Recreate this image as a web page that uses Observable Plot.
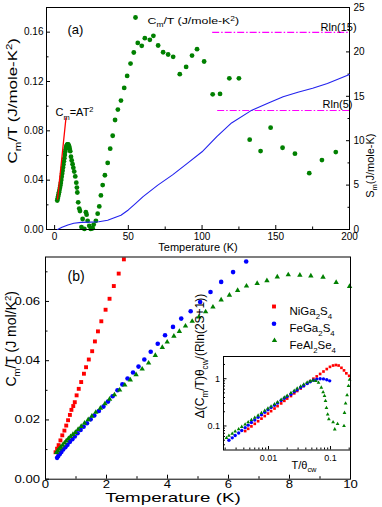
<!DOCTYPE html>
<html><head><meta charset="utf-8">
<style>
html,body{margin:0;padding:0;background:#fff;}
#fig{position:relative;width:382px;height:507px;overflow:hidden;background:#fff;}
</style>
<script src="https://cdn.jsdelivr.net/npm/d3@7"></script>
<script src="https://cdn.jsdelivr.net/npm/@observablehq/plot@0.6"></script>
</head><body><div id="fig"></div>
<script>
// ---------- Panel (a) data ----------
const cmT = [1.8,2.1,2.4,2.7,3.0,3.3,3.6,3.9,4.2,4.5,4.8,5.1,5.4,5.7,6.0,6.3,6.6,6.9,7.2,7.5,7.8,8.1,8.4,8.7,9.0,9.3,9.6,9.9,10.2,10.6,11.1,11.6,12.2,12.7,13.3,14.0,14.7,15.1,15.4,16.0,16.7,17.2,18.2,19.0,20.2,21.2,21.7,22.4,23.5,24.5,25.8,26.5,28.0,29.2,30.3,31.4,32.6,34.1,36.0,37.7,39.4,41.0,42.9,45.0,47.2,49.2,51.5,53.7,56.4,59.1,61.2,64.6,67.0,70.2,73.6,77.0,80.4,84.9,89.2,93.2,96.6,101.4,107.2,112.2,118.5,125.0,132.3,139.7,146.5,154.6,163.0,172.7,181.3,190.7];
const cmOverT = [.0235,.0252,.0268,.0286,.0303,.0320,.0338,.0356,.0378,.0402,.0427,.0452,.0477,.0503,.0528,.0553,.0578,.0605,.0630,.0650,.0665,.0677,.0686,.0690,.0690,.0687,.0680,.0670,.0655,.0635,.0590,.0560,.0530,.0500,.0470,.0430,.0380,.0340,.0300,.0220,.0170,.0150,.0020,.0085,.0005,.0140,.0120,.0070,.0030,.0005,.0010,.0040,.0070,.0128,.0187,.0276,.0360,.0440,.0540,.0655,.0760,.0888,.0972,.1045,.1148,.1245,.1345,.1435,.1513,.1489,.1551,.1538,.1570,.1492,.1437,.1419,.1400,.1259,.1318,.1410,.1462,.1362,.1096,.1099,.1226,.1226,.0728,.0636,.0826,.0663,.0615,.0457,.0563,.0628];
const fitT = [2.0, 7.7];
const fitCmOverT = [0.0247, 0.0904];
const entropyT = [2,5,9,13,18,24,30,36,40,45,50,55,60,70,80,90,100,110,120,133,145,155,165,175,185,200];
const entropyS = [0,0.25,0.5,0.7,0.8,0.83,0.88,1.05,1.3,1.6,2.2,2.95,3.7,5.0,6.15,7.45,8.75,10.45,12.0,13.36,14.25,14.95,15.45,15.9,16.45,17.45];
const refNames = ["Rln(15)", "Rln(5)"];
const refS = [22.2, 13.4];
const refFrom = [107.2, 110.6];
const refTo = [200, 200];
const xMajorA = [0,50,100,150,200];
const xMinorA = [25,75,125,175];
const cMajorA = [0,0.04,0.08,0.12,0.16];
const cMinorA = [0.02,0.06,0.10,0.14];
const sMajorA = [0,5,10,15,20,25];
const sMinorA = [2.5,7.5,12.5,17.5,22.5];

// ---------- Panel (b) data ----------
const niT = [0.33,0.38,0.43,0.49,0.55,0.62,0.68,0.74,0.80,0.85,0.91,0.96,1.02,1.09,1.17,1.26,1.33,1.42,1.53,1.62,1.72,1.83,1.97,2.10,2.24,2.40,2.57];
const niC = [.0091,.0103,.0115,.0131,.0148,.0164,.0181,.0199,.0217,.0234,.0247,.0260,.0283,.0305,.0328,.0356,.0378,.0404,.0432,.0465,.0499,.0533,.0572,.0609,.0652,.0694,.0742];
const feGaT = [0.38,0.42,0.47,0.52,0.58,0.65,0.72,0.80,0.88,0.96,1.05,1.15,1.25,1.36,1.48,1.60,1.75,1.90,2.05,2.20,2.36,2.52,2.69,2.87,3.05,3.24,3.45,3.68,3.92,4.18,4.45,4.76,5.07,5.41,5.76,6.15,6.58];
const feGaC = [.0072,.0078,.0085,.0092,.0100,.0108,.0116,.0126,.0135,.0144,.0155,.0166,.0177,.0189,.0202,.0215,.0230,.0245,.0262,.0280,.0300,.0320,.0340,.0360,.0380,.0404,.0430,.0457,.0486,.0514,.0542,.0567,.0598,.0632,.0666,.0699,.0735];
const feAlT = [0.36,0.40,0.45,0.50,0.56,0.62,0.68,0.75,0.82,0.90,0.98,1.07,1.17,1.28,1.40,1.52,1.65,1.80,1.95,2.10,2.26,2.43,2.60,2.78,2.97,3.17,3.38,3.60,3.83,3.99,4.21,4.39,4.59,4.81,5.03,5.25,5.49,5.76,6.03,6.30,6.59,6.94,7.26,7.60,7.96,8.34,8.70,9.10,9.53,9.97];
const feAlC = [.0090,.0096,.0102,.0108,.0115,.0122,.0129,.0137,.0144,.0151,.0158,.0168,.0178,.0189,.0201,.0213,.0226,.0240,.0255,.0270,.0285,.0301,.0318,.0335,.0353,.0372,.0392,.0418,.0445,.0463,.0483,.0499,.0517,.0533,.0548,.0565,.0581,.0605,.0621,.0637,.0652,.0661,.0670,.0683,.0690,.0689,.0686,.0682,.0664,.0651];
const xMajorB = [0,2,4,6,8,10];
const xMinorB = [1,3,5,7,9];
const cMajorB = [0,0.02,0.04,0.06];
const cMinorB = [0.01,0.03,0.05,0.07];
const seriesNames = ["NiGa_{2}S_{4}", "FeGa_{2}S_{4}", "FeAl_{2}Se_{4}"];

// ---------- Inset data ----------
const niRedX = [0.0042,0.0047,0.0053,0.006,0.0068,0.0077,0.0087,0.0098,0.011,0.0125,0.014,0.016,0.018,0.02,0.023,0.026,0.029,0.033,0.037,0.042,0.047,0.053,0.06,0.068,0.077,0.087,0.098,0.11,0.122,0.135,0.15,0.165,0.18,0.2];
const niRedY = [0.078,0.087,0.098,0.111,0.126,0.143,0.162,0.183,0.206,0.234,0.263,0.30,0.34,0.38,0.43,0.49,0.55,0.62,0.70,0.79,0.89,1.0,1.12,1.26,1.42,1.6,1.78,1.9,1.95,1.9,1.7,1.5,1.3,1.15];
const feGaRedX = [0.0023,0.0026,0.0029,0.0033,0.0037,0.0042,0.0047,0.0053,0.006,0.0068,0.0077,0.0087,0.0098,0.011,0.0125,0.014,0.016,0.018,0.02,0.023,0.026,0.029,0.033,0.037,0.042,0.047,0.053,0.06,0.068,0.077,0.087,0.097];
const feGaRedY = [0.050,0.056,0.063,0.071,0.080,0.092,0.104,0.118,0.134,0.152,0.172,0.195,0.22,0.245,0.275,0.305,0.345,0.385,0.42,0.47,0.53,0.58,0.65,0.71,0.79,0.86,0.93,0.98,1.0,0.99,0.95,0.9];
const feAlRedX = [0.0021,0.0023,0.0026,0.0029,0.0033,0.0037,0.0042,0.0047,0.0053,0.006,0.0068,0.0077,0.0087,0.0098,0.011,0.0125,0.014,0.016,0.018,0.02,0.023,0.026,0.029,0.033,0.037,0.042,0.047,0.052,0.058,0.064,0.071,0.076,0.08,0.083,0.086,0.09,0.094,0.11,0.117,0.13,0.165,0.168,0.175,0.185,0.195,0.203];
const feAlRedY = [0.056,0.062,0.069,0.077,0.086,0.096,0.108,0.12,0.134,0.15,0.168,0.188,0.21,0.235,0.26,0.29,0.32,0.36,0.40,0.44,0.5,0.56,0.62,0.69,0.76,0.83,0.89,0.92,0.90,0.82,0.65,0.52,0.43,0.34,0.24,0.175,0.14,0.12,0.085,0.11,0.10,0.19,0.3,0.45,0.7,0.95];
const xMajorI = [0.01, 0.1];
const xMinorI = [0.002,0.003,0.004,0.005,0.006,0.007,0.008,0.009,0.02,0.03,0.04,0.05,0.06,0.07,0.08,0.09,0.2];
const yMajorI = [0.1, 1];
const yMinorI = [0.04,0.05,0.06,0.07,0.08,0.09,0.2,0.3,0.4,0.5,0.6,0.7,0.8,0.9,2];

// ---------- texts ----------
const panelLabels = ["(a)", "(b)"];
const xLabel = "Temperature (K)";
const yLabelA = "C_{m}/T (J/mole-K^{2})";
const yLabelRightA = "S_{m}(J/mole-K)";
const legendA = "C_{m}/T (J/mole-K^{2})";
const fitLabel = "C_{m}=AT^{2}";
const yLabelB = "C_{m}/T (J mol/K^{2})";
const xLabelI = "T/θ_{cw}";
const yLabelI = "Δ(C_{m}/T)θ_{cw}/(Rln(2S+1))";

const FONT = "'Liberation Sans', Arial, Helvetica, sans-serif";
const GREEN = "#008000", RED = "#ff0000", BLUE = "#0000ff";
const base = {background: "transparent", overflow: "visible", fontFamily: FONT, color: "#000"};
const rows = (xs, ys, kx = "x", ky = "y") => xs.map((v, i) => ({[kx]: v, [ky]: ys[i]}));
const blank = () => "";

const fig = document.getElementById("fig");
function place(svg, top) {
  svg.style.position = "absolute"; svg.style.left = "0px"; svg.style.top = top + "px";
  fig.appendChild(svg); return svg;
}
function rich(svg) {
  const ns = "http://www.w3.org/2000/svg";
  for (const t of svg.querySelectorAll("text")) {
    const s = t.textContent;
    if (!/[_^]\{/.test(s)) continue;
    const fs = parseFloat(getComputedStyle(t).fontSize) || 10;
    while (t.firstChild) t.removeChild(t.firstChild);
    let shift = 0;
    for (const p of s.split(/([_^]\{[^}]*\})/)) {
      if (!p) continue;
      const m = p.match(/^([_^])\{([^}]*)\}$/);
      const ts = document.createElementNS(ns, "tspan");
      let target = 0;
      if (m) { target = m[1] === "_" ? 0.3 * fs : -0.38 * fs; ts.setAttribute("font-size", (0.68 * fs).toFixed(2)); ts.textContent = m[2]; }
      else ts.textContent = p;
      const d = target - shift;
      if (d) ts.setAttribute("dy", d.toFixed(2));
      shift = target;
      t.appendChild(ts);
    }
  }
}
function stretchText(els, f) {
  for (const t of els) t.setAttribute("transform", (t.getAttribute("transform") || "") + ` scale(${f},1)`);
}
function byText(svg, s) { return [...svg.querySelectorAll("text")].filter(t => t.textContent === s); }

// ---------- Panel (a), left scale ----------
const geomA = {width: 382, height: 250, marginLeft: 46, marginRight: 33, marginTop: 7, marginBottom: 21};
const plotA = Plot.plot({
  ...geomA,
  style: {...base, fontSize: "10px"},
  x: {domain: [-5.5, 200]},
  y: {domain: [0, 0.18]},
  marks: [
    Plot.axisX(xMajorA, {tickSize: -4, tickPadding: 7, tickFormat: d => String(d), label: null}),
    Plot.axisX(xMinorA, {tickSize: -2.5, tickFormat: blank, label: null}),
    Plot.axisY(cMajorA, {tickSize: -4, tickPadding: 7, tickFormat: d => d.toFixed(2), label: null}),
    Plot.axisY(cMinorA, {tickSize: -2.5, tickFormat: blank, label: null}),
    Plot.dot(rows(cmT, cmOverT), {x: "x", y: "y", r: 2.4, fill: GREEN}),
    Plot.line(rows(fitT, fitCmOverT), {x: "x", y: "y", stroke: RED, strokeWidth: 1.3}),
    Plot.frame({stroke: "#000"}),
    Plot.text([panelLabels[0]], {text: d => d, frameAnchor: "top-left", dx: 21, dy: 17, fontSize: 13}),
    Plot.dot([0], {frameAnchor: "top-left", dx: 89, dy: 10, r: 2.4, fill: GREEN}),
    Plot.text([legendA], {text: d => d, frameAnchor: "top-left", dx: 101, dy: 10, textAnchor: "start", fontSize: 9.5}),
    Plot.text([fitLabel], {text: d => d, frameAnchor: "top-left", dx: 9, dy: 101, textAnchor: "start", fontSize: 11}),
    Plot.text([xLabel], {text: d => d, frameAnchor: "bottom", dy: 21.5, fontSize: 11}),
    Plot.text([yLabelA], {text: d => d, frameAnchor: "left", rotate: -90, dx: -34, dy: 45, fontSize: 13})
  ]
});
place(plotA, 0);

// ---------- Panel (a), right scale (entropy) ----------
const plotA2 = Plot.plot({
  ...geomA,
  style: {...base, fontSize: "10px"},
  x: {domain: [-5.5, 200], axis: null},
  y: {domain: [0, 25]},
  marks: [
    Plot.axisY(sMajorA, {anchor: "right", tickSize: -4, tickPadding: 8, tickFormat: d => String(d), label: null}),
    Plot.axisY(sMinorA, {anchor: "right", tickSize: -2.5, tickFormat: blank, label: null}),
    Plot.ruleY(refS.map((s, i) => ({s, a: refFrom[i], b: refTo[i]})), {y: "s", x1: "a", x2: "b", stroke: "#ff00ff", strokeWidth: 1.2, strokeDasharray: "7,2,1.5,2"}),
    Plot.line(rows(entropyT, entropyS), {x: "x", y: "y", stroke: "#2222ee", strokeWidth: 1.1}),
    Plot.text([refNames[0]], {text: d => d, frameAnchor: "top-left", dx: 274, dy: 16, fontSize: 11}),
    Plot.text([refNames[1]], {text: d => d, frameAnchor: "top-left", dx: 276, dy: 93, fontSize: 11}),
    Plot.text([yLabelRightA], {text: d => d, frameAnchor: "right", rotate: -90, dx: 21, dy: 15, fontSize: 11})
  ]
});
place(plotA2, 0);

// ---------- Panel (b) ----------
const plotB = Plot.plot({
  width: 382, height: 257, marginLeft: 45, marginRight: 32, marginTop: 6.5, marginBottom: 28.3,
  style: {...base, fontSize: "10.5px"},
  x: {domain: [0, 10]},
  y: {domain: [0, 0.075]},
  marks: [
    Plot.axisX(xMajorB, {tickSize: -4, tickPadding: 5.5, tickFormat: d => String(d), label: null}),
    Plot.axisX(xMinorB, {tickSize: -2.5, tickFormat: blank, label: null}),
    Plot.axisY(cMajorB, {tickSize: -4, tickPadding: 9.5, tickFormat: d => d.toFixed(2), label: null}),
    Plot.axisY(cMinorB, {tickSize: -2.5, tickFormat: blank, label: null}),
    Plot.dot(rows(niT, niC), {x: "x", y: "y", symbol: "square", r: 2.2, fill: RED}),
    Plot.dot(rows(feGaT, feGaC), {x: "x", y: "y", symbol: "circle", r: 2.3, fill: BLUE}),
    Plot.dot(rows(feAlT, feAlC), {x: "x", y: "y", symbol: "triangle", r: 2.0, fill: GREEN}),
    Plot.frame({stroke: "#000"}),
    Plot.text([panelLabels[1]], {text: d => d, frameAnchor: "top-left", dx: 22, dy: 14.5, fontSize: 14}),
    Plot.dot([0], {frameAnchor: "top-left", dx: 228.5, dy: 49.5, symbol: "square", r: 2.2, fill: RED}),
    Plot.dot([0], {frameAnchor: "top-left", dx: 228.5, dy: 66.8, symbol: "circle", r: 2.3, fill: BLUE}),
    Plot.dot([0], {frameAnchor: "top-left", dx: 229, dy: 83.5, symbol: "triangle", r: 2.0, fill: GREEN}),
    Plot.text([seriesNames[0]], {text: d => d, frameAnchor: "top-left", dx: 244, dy: 50, textAnchor: "start", fontSize: 11.5}),
    Plot.text([seriesNames[1]], {text: d => d, frameAnchor: "top-left", dx: 244, dy: 67, textAnchor: "start", fontSize: 11.5}),
    Plot.text([seriesNames[2]], {text: d => d, frameAnchor: "top-left", dx: 244, dy: 84, textAnchor: "start", fontSize: 11.5}),
    Plot.text([xLabel], {text: d => d, frameAnchor: "bottom", dx: -25, dy: 22.5, fontSize: 12.5}),
    Plot.text([yLabelB], {text: d => d, frameAnchor: "left", rotate: -90, dx: -34, dy: 18.5, fontSize: 14})
  ]
});
place(plotB, 250);

// ---------- Inset ----------
const plotI = Plot.plot({
  width: 382, height: 257, marginLeft: 223, marginRight: 32, marginTop: 106, marginBottom: 57.5,
  style: {...base, fontSize: "9px"},
  x: {type: "log", domain: [0.00188, 0.21]},
  y: {type: "log", domain: [0.031, 2.95]},
  marks: [
    Plot.frame({fill: "#fff", stroke: "none"}),
    Plot.axisX(xMajorI, {tickSize: -3.5, tickPadding: 8, tickFormat: d => String(d), label: null}),
    Plot.axisX(xMinorI, {tickSize: -2, tickFormat: blank, label: null}),
    Plot.axisY(yMajorI, {tickSize: -3.5, tickPadding: 7, tickFormat: d => String(d), label: null}),
    Plot.axisY(yMinorI, {tickSize: -2, tickFormat: blank, label: null}),
    Plot.dot(rows(niRedX, niRedY), {x: "x", y: "y", symbol: "square", r: 1.5, fill: RED}),
    Plot.dot(rows(feGaRedX, feGaRedY), {x: "x", y: "y", symbol: "circle", r: 1.7, fill: BLUE}),
    Plot.dot(rows(feAlRedX, feAlRedY), {x: "x", y: "y", symbol: "triangle", r: 1.4, fill: GREEN}),
    Plot.frame({stroke: "#000"}),
    Plot.text([xLabelI], {text: d => d, frameAnchor: "bottom", dx: 17, dy: 18.5, fontSize: 11}),
    Plot.text([yLabelI], {text: d => d, frameAnchor: "left", rotate: -90, dx: -23, dy: 15, fontSize: 12})
  ]
});
place(plotI, 250);

// ---------- text post-processing ----------
stretchText(byText(plotA, yLabelA), 1.3);
stretchText(plotB.querySelectorAll('g[aria-label="x-axis tick label"] text, g[aria-label="y-axis tick label"] text'), 1.25);
stretchText(byText(plotB, xLabel), 1.5);
for (const s of [plotA, plotA2, plotB, plotI]) rich(s);
</script>
</body></html>
